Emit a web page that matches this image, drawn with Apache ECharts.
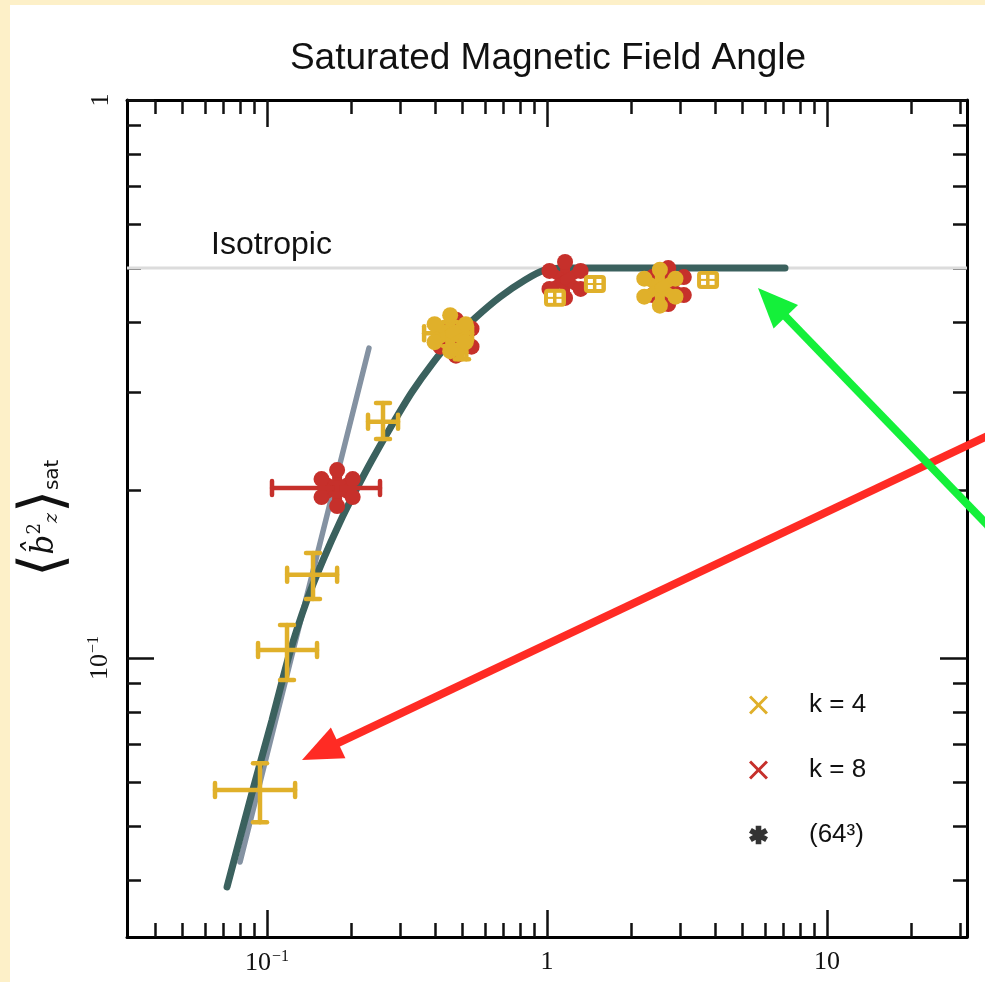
<!DOCTYPE html>
<html>
<head>
<meta charset="utf-8">
<script src="https://cdn.jsdelivr.net/npm/echarts@6/dist/echarts.min.js"></script>
<style>
html, body { margin: 0; padding: 0; background: #fdf0c8; }
#main { width: 985px; height: 982px; }
</style>
</head>
<body>
<div id="main"></div>
<script>
// axis ranges (log10 -1.5 .. 1.5 on x, -1.5 .. 0 on y)
var X_MIN = Math.pow(10, -1.5), X_MAX = Math.pow(10, 1.5);
var Y_MIN = Math.pow(10, -1.5), Y_MAX = 1;

var xMajorTicks = [0.1, 1, 10];
var xMajorLabels = ['10^-1', '1', '10'];
var xMinorTicks = [0.04, 0.05, 0.06, 0.07, 0.08, 0.09, 0.2, 0.3, 0.4, 0.5, 0.6, 0.7, 0.8, 0.9,
                   2, 3, 4, 5, 6, 7, 8, 9, 20, 30];
var yMajorTicks = [0.1, 1];
var yMajorLabels = ['10^-1', '1'];
var yMinorTicks = [0.04, 0.05, 0.06, 0.07, 0.08, 0.09, 0.2, 0.3, 0.4, 0.5, 0.6, 0.7, 0.8, 0.9];

var isotropicLevel = 0.5;

// model curve
var curveX = [0.0720, 0.0884, 0.1042, 0.1208, 0.1389, 0.1585, 0.1823, 0.2062, 0.2371, 0.2795,
              0.3295, 0.3884, 0.4577, 0.5533, 0.6794, 0.8346, 0.9837, 1.1593, 7.08];
var curveY = [0.0389, 0.0573, 0.0774, 0.1025, 0.1270, 0.1498, 0.1753, 0.1984, 0.2264, 0.2616,
              0.2997, 0.3364, 0.3715, 0.4067, 0.4436, 0.4757, 0.4959, 0.500, 0.500];

// power law guide
var guideX = [0.0801, 0.2313];
var guideY = [0.0431, 0.3593];

// error bars: x, y, xLow, xHigh, yLow, yHigh
var k4Bars = [
  [0.0944, 0.0580, 0.0652, 0.126, 0.0508, 0.0648],
  [0.1179, 0.1034, 0.0929, 0.1509, 0.0913, 0.1146],
  [0.146, 0.141, 0.118, 0.178, 0.1276, 0.1542],
  [0.2596, 0.265, 0.2295, 0.2938, 0.2469, 0.2864],
  [0.451, 0.382, 0.364, 0.54, 0.362, 0.400],
  [0.497, 0.353, 0.482, 0.515, 0.343, 0.364]
];
var k8Bars = [
  [0.178, 0.2016, 0.1042, 0.2533, 0.197, 0.206]
];

// 64^3 runs (asterisks)
var k4Stars = [[0.451, 0.382], [2.53, 0.461]];
var k8Stars = [[0.178, 0.2016], [0.473, 0.375], [1.16, 0.476], [2.71, 0.464]];

// boxed markers
var k4Boxes = [[1.068, 0.442], [1.483, 0.468], [3.76, 0.476]];

var YELLOW = '#e0b02a';
var RED = '#c6302b';
var TEAL = '#3b615e';

function texLabel(s) {
  if (s.indexOf('^') >= 0) {
    var p = s.split('^');
    return '{b|' + p[0] + '}{s|' + p[1].replace('-', '\u2212') + '}';
  }
  return '{b|' + s + '}';
}

function pick(ticks, labels, v) {
  var best = 0;
  for (var i = 0; i < ticks.length; i++) {
    if (Math.abs(Math.log10(ticks[i]) - Math.log10(v)) < Math.abs(Math.log10(ticks[best]) - Math.log10(v))) best = i;
  }
  return texLabel(labels[best]);
}

var labelRich = {
  b: { fontFamily: 'Liberation Serif', fontSize: 26, color: '#111' },
  s: { fontFamily: 'Liberation Serif', fontSize: 16, color: '#111', padding: [0, 0, 12, 1] }
};

function makeAxis(dim, pos, ticks, len, main) {
  return {
    type: 'log', logBase: 10, position: pos,
    min: dim === 'x' ? X_MIN : Y_MIN,
    max: dim === 'x' ? X_MAX : Y_MAX,
    axisLine: { show: main, onZero: false, lineStyle: { color: '#000', width: 3 } },
    axisTick: { show: true, inside: true, length: len, customValues: ticks,
                lineStyle: { color: '#111', width: 2.5 } },
    axisLabel: { show: false },
    splitLine: { show: false },
    minorTick: { show: false },
    minorSplitLine: { show: false }
  };
}

var xAxes = [
  makeAxis('x', 'bottom', xMajorTicks, 27, true),
  makeAxis('x', 'bottom', xMinorTicks, 14, false),
  makeAxis('x', 'top', xMajorTicks, 27, true),
  makeAxis('x', 'top', xMinorTicks, 14, false)
];
xAxes[0].axisLabel = {
  show: true, margin: 12, customValues: xMajorTicks,
  formatter: function (v) { return pick(xMajorTicks, xMajorLabels, v); },
  rich: labelRich
};

var yAxes = [
  makeAxis('y', 'left', yMajorTicks, 27, true),
  makeAxis('y', 'left', yMinorTicks, 14, false),
  makeAxis('y', 'right', yMajorTicks, 27, true),
  makeAxis('y', 'right', yMinorTicks, 14, false)
];
yAxes[0].axisLabel = {
  show: true, margin: 13, rotate: 90, customValues: yMajorTicks,
  formatter: function (v) { return pick(yMajorTicks, yMajorLabels, v); },
  rich: labelRich
};
yAxes[0].name = '{ang|\u27E8}{b|b\u0302}{sup|2}{sub|z}{ang|\u27E9}{sat|sat}';
yAxes[0].nameLocation = 'middle';
yAxes[0].nameRotate = 90;
yAxes[0].nameGap = 52;
yAxes[0].nameTextStyle = {
  rich: {
    ang: { fontFamily: 'DejaVu Sans', fontWeight: 200, fontSize: 60, color: '#111' },
    b: { fontFamily: 'DejaVu Serif', fontStyle: 'italic', fontSize: 31, color: '#111' },
    sup: { fontFamily: 'DejaVu Serif', fontSize: 18, color: '#111', padding: [0, 0, 20, 0] },
    sub: { fontFamily: 'DejaVu Serif', fontStyle: 'italic', fontSize: 19, color: '#111', padding: [14, 0, 0, 0] },
    sat: { fontFamily: 'DejaVu Sans', fontSize: 20, color: '#111', padding: [16, 0, 0, 0] }
  }
};

function zip(xs, ys) {
  return xs.map(function (x, i) { return [x, ys[i]]; });
}

function renderBars(params, api) {
  var y = api.value(1), x = api.value(0);
  var l = api.coord([api.value(2), y]);
  var r = api.coord([api.value(3), y]);
  var lo = api.coord([x, api.value(4)]);
  var hi = api.coord([x, api.value(5)]);
  var st = { stroke: api.visual('color'), lineWidth: 4.5, lineCap: 'round' };
  var cap = 7;
  return {
    type: 'group',
    children: [
      { type: 'line', shape: { x1: l[0], y1: l[1], x2: r[0], y2: r[1] }, style: st },
      { type: 'line', shape: { x1: lo[0], y1: lo[1], x2: hi[0], y2: hi[1] }, style: st },
      { type: 'line', shape: { x1: l[0], y1: l[1] - cap, x2: l[0], y2: l[1] + cap }, style: st },
      { type: 'line', shape: { x1: r[0], y1: r[1] - cap, x2: r[0], y2: r[1] + cap }, style: st },
      { type: 'line', shape: { x1: lo[0] - cap, y1: lo[1], x2: lo[0] + cap, y2: lo[1] }, style: st },
      { type: 'line', shape: { x1: hi[0] - cap, y1: hi[1], x2: hi[0] + cap, y2: hi[1] }, style: st }
    ]
  };
}

function renderStar(params, api) {
  var c = api.coord([api.value(0), api.value(1)]);
  var color = api.visual('color');
  var kids = [];
  for (var i = 0; i < 6; i++) {
    var a = Math.PI / 2 + i * Math.PI / 3;
    var ex = c[0] + 18 * Math.cos(a), ey = c[1] - 18 * Math.sin(a);
    kids.push({ type: 'line', shape: { x1: c[0], y1: c[1], x2: ex, y2: ey },
                style: { stroke: color, lineWidth: 10, lineCap: 'round' } });
    kids.push({ type: 'circle', shape: { cx: ex, cy: ey, r: 8 }, style: { fill: color } });
  }
  return { type: 'group', children: kids };
}

function renderBox(params, api) {
  var c = api.coord([api.value(0), api.value(1)]);
  var color = api.visual('color');
  var kids = [{ type: 'rect', shape: { x: c[0] - 11, y: c[1] - 9, width: 22, height: 18, r: 4 }, style: { fill: color } }];
  [[-7, -5], [1.5, -5], [-7, 1], [1.5, 1]].forEach(function (o) {
    kids.push({ type: 'rect', shape: { x: c[0] + o[0], y: c[1] + o[1], width: 5, height: 4 }, style: { fill: '#fff' } });
  });
  return { type: 'group', children: kids };
}

// annotation arrows drawn over the figure (pixel positions)
var arrows = [
  { color: '#ff2b24', tip: [302, 760], tail: [1000, 430] },
  { color: '#14f03a', tip: [758, 288], tail: [1000, 538] }
];

function arrowGraphics() {
  var out = [];
  arrows.forEach(function (a) {
    var dx = a.tip[0] - a.tail[0], dy = a.tip[1] - a.tail[1];
    var len = Math.sqrt(dx * dx + dy * dy);
    var ux = dx / len, uy = dy / len;
    var hl = 40, hw = 17;
    var bx = a.tip[0] - ux * hl, by = a.tip[1] - uy * hl;
    out.push({ type: 'line', z: 100,
      shape: { x1: a.tail[0], y1: a.tail[1], x2: bx + ux * 8, y2: by + uy * 8 },
      style: { stroke: a.color, lineWidth: 8 } });
    out.push({ type: 'polygon', z: 100,
      shape: { points: [a.tip, [bx - uy * hw, by + ux * hw], [bx + uy * hw, by - ux * hw]] },
      style: { fill: a.color } });
  });
  return out;
}

var crossIcon = 'path://M0,1.1L1.1,0L5,3.9L8.9,0L10,1.1L6.1,5L10,8.9L8.9,10L5,6.1L1.1,10L0,8.9L3.9,5Z';
function starIcon() {
  var d = '';
  [90, 30, 150].forEach(function (deg) {
    var a = deg * Math.PI / 180;
    var cx = Math.cos(a) * 5, cy = -Math.sin(a) * 5;
    var px = -Math.sin(a) * 1.5, py = -Math.cos(a) * 1.5;
    var pts = [[5 + cx + px, 5 + cy + py], [5 + cx - px, 5 + cy - py], [5 - cx - px, 5 - cy - py], [5 - cx + px, 5 - cy + py]];
    d += 'M' + pts.map(function (p) { return p[0].toFixed(2) + ',' + p[1].toFixed(2); }).join('L') + 'Z';
  });
  return 'path://' + d;
}

var chart = echarts.init(document.getElementById('main'));

var option = {
  animation: false,
  backgroundColor: '#fdf0c8',
  title: {
    text: 'Saturated Magnetic Field Angle',
    left: 543, top: 35, textAlign: 'center',
    textStyle: { fontFamily: 'Liberation Sans', fontSize: 37, fontWeight: 'normal', color: '#111' }
  },
  grid: { left: 127, top: 100, width: 840, height: 837 },
  xAxis: xAxes,
  yAxis: yAxes,
  legend: {
    orient: 'vertical', left: 744, top: 687,
    itemWidth: 19, itemHeight: 19, itemGap: 39,
    textStyle: { fontFamily: 'Liberation Sans', fontSize: 26, color: '#111', padding: [0, 0, 0, 36] },
    data: [
      { name: 'k = 4', icon: crossIcon, itemStyle: { color: YELLOW } },
      { name: 'k = 8', icon: crossIcon, itemStyle: { color: RED } },
      { name: '(64\u00B3)', icon: starIcon(), itemStyle: { color: '#000' } }
    ],
    selectedMode: false
  },
  graphic: [
    { type: 'rect', z: -10, silent: true, shape: { x: 10, y: 5, width: 1000, height: 1000 }, style: { fill: '#fff' } },
    { type: 'text', left: 211, top: 229,
      style: { text: 'Isotropic', fontFamily: 'Liberation Sans', fontSize: 32, fill: '#111' } }
  ].concat(arrowGraphics()),
  series: [
    { type: 'line', name: 'isotropic', data: [[X_MIN, isotropicLevel], [X_MAX, isotropicLevel]],
      symbol: 'none', lineStyle: { color: '#dcdcdc', width: 3 }, z: 1 },
    { type: 'line', name: 'guide', data: zip(guideX, guideY), symbol: 'none',
      lineStyle: { color: '#8492a2', width: 5.5, cap: 'round' }, z: 2 },
    { type: 'line', name: 'model', data: zip(curveX, curveY), symbol: 'none', smooth: 0.2,
      lineStyle: { color: TEAL, width: 7, cap: 'round' }, z: 3 },
    { type: 'custom', name: 'k = 8', data: k8Stars, renderItem: renderStar,
      encode: { x: 0, y: 1 }, itemStyle: { color: RED }, z: 4 },
    { type: 'custom', name: 'k = 8', data: k8Bars, renderItem: renderBars,
      encode: { x: 0, y: 1 }, itemStyle: { color: RED }, z: 4 },
    { type: 'custom', name: 'k = 4', data: k4Bars, renderItem: renderBars,
      encode: { x: 0, y: 1 }, itemStyle: { color: YELLOW }, z: 5 },
    { type: 'custom', name: 'k = 4', data: k4Stars, renderItem: renderStar,
      encode: { x: 0, y: 1 }, itemStyle: { color: YELLOW }, z: 5 },
    { type: 'custom', name: 'k = 4', data: k4Boxes, renderItem: renderBox,
      encode: { x: 0, y: 1 }, itemStyle: { color: YELLOW }, z: 6 },
    { type: 'scatter', name: '(64\u00B3)', data: [], itemStyle: { color: '#000' } }
  ]
};

chart.setOption(option);
</script>
</body>
</html>
